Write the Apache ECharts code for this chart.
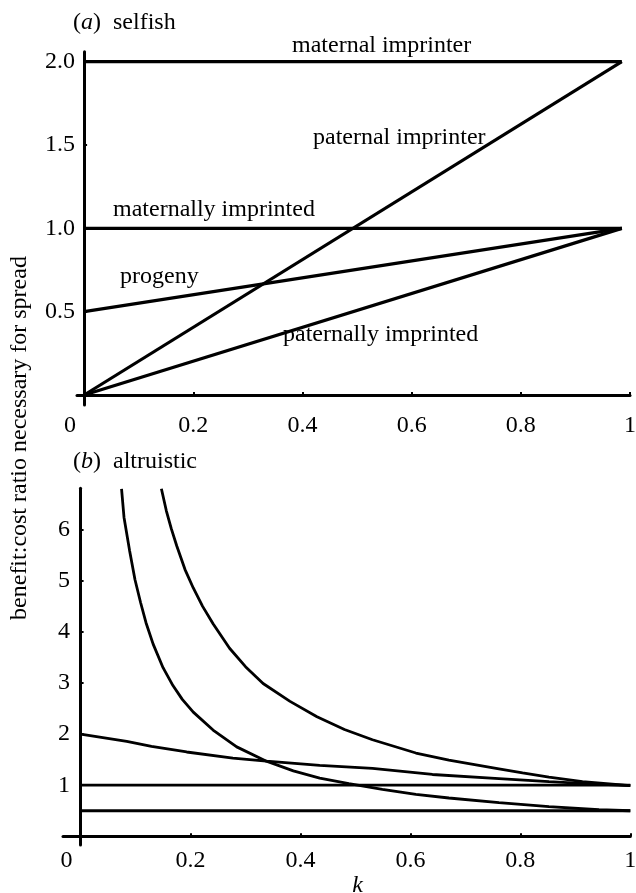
<!DOCTYPE html>
<html>
<head>
<meta charset="utf-8">
<script src="https://cdn.jsdelivr.net/npm/echarts@6/dist/echarts.min.js"></script>
<style>html,body{margin:0;padding:0;background:#fff}#c{width:636px;height:893px}</style>
</head>
<body>
<div id="c"></div>
<script>
// ---------- data ----------
// panel (a) selfish : straight lines, k from 0 to the right end
var kTop = [0, 0.985];
var maternalImprinter   = [2, 2];
var paternalImprinter   = [0, 2];
var maternallyImprinted = [1, 1];
var progeny             = [0.5, 1];
var paternallyImprinted = [0, 1];

// panel (b) altruistic
var kFlat = [0, 1];
var flatOne  = [1, 1];
var flatHalf = [0.5, 0.5];

var kCurveA = [0.147, 0.156, 0.165, 0.175, 0.19, 0.205, 0.222, 0.241, 0.271, 0.30, 0.332, 0.381, 0.43, 0.48, 0.531, 0.61, 0.67, 0.761, 0.804, 0.852, 0.913, 1.0];
var vCurveA = [6.8, 6.37, 6.02, 5.68, 5.22, 4.86, 4.5, 4.16, 3.68, 3.32, 2.99, 2.64, 2.34, 2.09, 1.89, 1.63, 1.49, 1.32, 1.24, 1.16, 1.07, 0.99];

var kCurveB = [0.0745, 0.079, 0.089, 0.099, 0.109, 0.119, 0.132, 0.15, 0.168, 0.185, 0.205, 0.241, 0.284, 0.338, 0.387, 0.435, 0.488, 0.549, 0.61, 0.67, 0.761, 0.852, 0.943, 1.0];
var vCurveB = [6.8, 6.24, 5.6, 5.02, 4.58, 4.18, 3.76, 3.3, 2.95, 2.68, 2.43, 2.08, 1.75, 1.47, 1.28, 1.14, 1.03, 0.92, 0.82, 0.75, 0.66, 0.58, 0.52, 0.5];

var kCurveC = [0, 0.084, 0.129, 0.193, 0.277, 0.338, 0.435, 0.531, 0.64, 0.761, 0.852, 0.92, 1.0];
var vCurveC = [2.0, 1.86, 1.76, 1.65, 1.53, 1.47, 1.39, 1.33, 1.21, 1.13, 1.07, 1.03, 0.99];

// tick labels
var xTicks = [0, 0.2, 0.4, 0.6, 0.8, 1];
var yTicksTop = [0.5, 1, 1.5, 2];
var yTicksBottom = [1, 2, 3, 4, 5, 6];

var labelsTop = ['maternal imprinter', 'paternal imprinter', 'maternally imprinted', 'progeny', 'paternally imprinted'];
var titleA = 'selfish', titleB = 'altruistic';
var yName = 'benefit:cost ratio necessary for spread';
var xName = 'k';

// ---------- chart ----------
var FF = 'Liberation Serif';
var FS = 24;
function zip(xs, ys) { return xs.map(function (x, i) { return [x, ys[i]]; }); }

function xAxisCfg(gridIndex, min, margin) {
  return {
    type: 'value', gridIndex: gridIndex, min: min, max: 1,
    splitLine: { show: false },
    axisLine: { onZero: true, lineStyle: { color: '#000', width: 3 } },
    axisTick: { show: true, inside: true, length: 3, customValues: xTicks, lineStyle: { color: '#000', width: 2 } },
    axisLabel: {
      customValues: xTicks, margin: margin, color: '#000', fontFamily: FF, fontSize: FS, lineHeight: FS,
      formatter: function (v) { return v === 0 ? '{z|0}' : String(v); },
      rich: { z: { fontFamily: FF, fontSize: FS, color: '#000', padding: [0, 28, 0, 0] } }
    }
  };
}
function yAxisCfg(gridIndex, min, max, ticks, margin, fmt) {
  return {
    type: 'value', gridIndex: gridIndex, min: min, max: max,
    splitLine: { show: false },
    axisLine: { onZero: true, lineStyle: { color: '#000', width: 3 } },
    axisTick: { show: true, inside: true, length: 3, customValues: ticks, lineStyle: { color: '#000', width: 2 } },
    axisLabel: { customValues: ticks, margin: margin, color: '#000', fontFamily: FF, fontSize: FS, formatter: fmt }
  };
}
function lineSeries(xi, data, w) {
  return {
    type: 'line', xAxisIndex: xi, yAxisIndex: xi, data: data, showSymbol: false, symbol: 'none',
    lineStyle: { color: '#000', width: w }, silent: true, animation: false, clip: true
  };
}
function txt(x, y, s, extra) {
  var st = { text: s, x: 0, y: 0, fill: '#000', fontFamily: FF, fontSize: FS, align: 'left', verticalAlign: 'middle' };
  for (var k in (extra || {})) st[k] = extra[k];
  return { type: 'text', x: x, y: y, style: st, silent: true };
}

var chart = echarts.init(document.getElementById('c'), null, { renderer: 'canvas' });
chart.setOption({
  animation: false,
  backgroundColor: '#fff',
  grid: [
    { left: 77, top: 51.7, width: 553, height: 353.3, containLabel: false, outerBoundsMode: 'none' },
    { left: 63, top: 488.3, width: 567.3, height: 356.7, containLabel: false, outerBoundsMode: 'none' }
  ],
  xAxis: [xAxisCfg(0, -0.013, 8.5), xAxisCfg(1, -0.032, 3.5)],
  yAxis: [
    yAxisCfg(0, -0.06, 2.06, yTicksTop, 2, function (v) { return v.toFixed(1); }),
    yAxisCfg(1, -0.17, 6.81, yTicksBottom, -7, function (v) { return String(v); })
  ],
  series: [
    lineSeries(0, zip(kTop, maternalImprinter), 3.2),
    lineSeries(0, zip(kTop, paternalImprinter), 3.2),
    lineSeries(0, zip(kTop, maternallyImprinted), 3.2),
    lineSeries(0, zip(kTop, progeny), 3.2),
    lineSeries(0, zip(kTop, paternallyImprinted), 3.2),
    lineSeries(1, zip(kFlat, flatOne), 2.8),
    lineSeries(1, zip(kFlat, flatHalf), 2.8),
    lineSeries(1, zip(kCurveA, vCurveA), 2.8),
    lineSeries(1, zip(kCurveB, vCurveB), 2.8),
    lineSeries(1, zip(kCurveC, vCurveC), 2.8)
  ],
  graphic: [
    txt(73, 23, '({i|a})  ' + titleA, { rich: { i: { fontFamily: FF, fontSize: FS, fontStyle: 'italic', fill: '#000' } } }),
    txt(73, 462, '({i|b})  ' + titleB, { rich: { i: { fontFamily: FF, fontSize: FS, fontStyle: 'italic', fill: '#000' } } }),
    txt(292, 46, labelsTop[0]),
    txt(313, 138, labelsTop[1]),
    txt(113, 210, labelsTop[2]),
    txt(120, 277, labelsTop[3]),
    txt(283, 335, labelsTop[4]),
    { type: 'text', x: 20, y: 438, rotation: Math.PI / 2, silent: true,
      style: { text: yName, fill: '#000', fontFamily: FF, fontSize: FS, align: 'center', verticalAlign: 'middle' } },
    txt(357.7, 886, xName, { align: 'center', fontStyle: 'italic' })
  ]
});
</script>
</body>
</html>
